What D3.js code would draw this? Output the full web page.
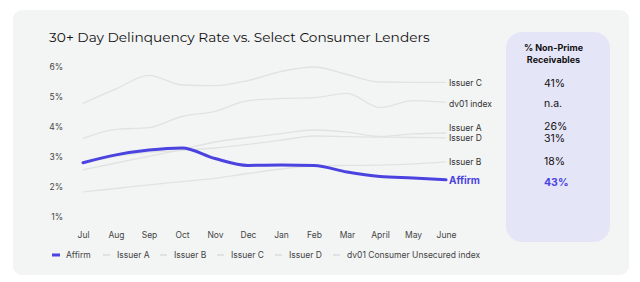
<!DOCTYPE html>
<html><head><meta charset="utf-8">
<script src="https://cdn.jsdelivr.net/npm/d3@7"></script>
<style>
html,body{margin:0;padding:0;background:#fff;}
svg{display:block;}
</style></head>
<body>
<svg id="chart" width="640" height="282"></svg>
<script>
const months = ["Jul","Aug","Sep","Oct","Nov","Dec","Jan","Feb","Mar","April","May","June"];
const affirm  = [2.81,3.07,3.23,3.30,2.95,2.72,2.73,2.72,2.50,2.35,2.30,2.24];
const issuerA = [2.57,2.80,3.02,3.25,3.50,3.65,3.78,3.90,3.83,3.69,3.77,3.80];
const issuerB = [1.84,1.95,2.07,2.18,2.29,2.45,2.60,2.70,2.72,2.73,2.77,2.84];
const issuerC = [4.79,5.27,5.72,5.40,5.38,5.55,5.85,6.00,5.75,5.50,5.49,5.49];
const issuerD = [2.78,3.02,3.16,3.22,3.30,3.42,3.56,3.70,3.68,3.66,3.65,3.64];
const dv01    = [3.62,3.92,3.98,4.35,4.52,4.88,4.95,4.98,5.12,4.65,4.88,4.82];
const yTicks = [1,2,3,4,5,6];
const seriesNames = ["Affirm","Issuer A","Issuer B","Issuer C","Issuer D","dv01 Consumer Unsecured index"];
const endLabels = ["Issuer C","dv01 index","Issuer A","Issuer D","Issuer B","Affirm"];
// label anchor positions expressed in % units of the y axis
const endLabelValues = [5.45,4.78,3.98,3.62,2.84,2.21];
const panelValueLevels = [5.47,4.78,4.03,3.63,2.86,2.14];
const panelHeader = ["% Non-Prime","Receivables"];
const panelValues = ["41%","n.a.","26%","31%","18%","43%"];

const BLUE = "#4b43e0", GREY = "#e1e2e2", TXT = "#333";
const svg = d3.select("#chart");
const font = "Inter, 'Noto Sans', sans-serif";

// card
svg.append("rect").attr("x",13).attr("y",10).attr("width",616).attr("height",265)
  .attr("rx",9).attr("fill","#f3f4f4");

// title
const title = svg.append("text").attr("x",49).attr("y",41.5)
  .attr("font-family","Montserrat, 'Open Sans', sans-serif").attr("font-size",17)
  .attr("fill","#111").text("30+ Day Delinquency Rate vs. Select Consumer Lenders");
const tl = title.node().getComputedTextLength();
title.attr("font-size", 17*381/tl);

const x = d3.scalePoint().domain(months).range([83,446]);
const y = d3.scaleLinear().domain([1,6]).range([217,67]);

// y axis
const yAxis = svg.append("g").attr("transform","translate(63,0)")
  .call(d3.axisLeft(y).tickValues(yTicks).tickSize(0).tickPadding(0).tickFormat(d=>d+"%"));
yAxis.select(".domain").remove();
yAxis.selectAll("text").attr("font-family",font).attr("font-size",8.5).attr("fill","#444");

// x axis
const xAxis = svg.append("g").attr("transform","translate(0,232)")
  .call(d3.axisBottom(x).tickSize(0).tickPadding(0));
xAxis.select(".domain").remove();
xAxis.selectAll("text").attr("font-family",font).attr("font-size",8.5).attr("fill","#444");

const line = d3.line().x((d,i)=>x(months[i])).y(d=>y(d)).curve(d3.curveMonotoneX);
[issuerB, issuerD, issuerA, dv01, issuerC].forEach(s=>{
  svg.append("path").attr("d",line(s)).attr("fill","none").attr("stroke",GREY).attr("stroke-width",1.3);
});
svg.append("path").attr("d",line(affirm)).attr("fill","none").attr("stroke",BLUE)
  .attr("stroke-width",3).attr("stroke-linecap","round");

// end labels
endLabels.forEach((t,i)=>{
  const isA = t==="Affirm";
  svg.append("text").attr("x",449).attr("y",y(endLabelValues[i])).attr("dy","0.35em")
    .attr("font-family",font).attr("font-size",isA?10:8.5).attr("font-weight",isA?700:400)
    .attr("fill",isA?BLUE:TXT).text(t);
});

// panel
svg.append("rect").attr("x",506).attr("y",32).attr("width",104).attr("height",210)
  .attr("rx",16).attr("fill","#e5e5f8");
panelHeader.forEach((t,i)=>{
  svg.append("text").attr("x",553.5).attr("y",51+i*11.5).attr("text-anchor","middle")
    .attr("font-family",font).attr("font-size",9).attr("font-weight",700).attr("fill","#111").text(t);
});
panelValues.forEach((t,i)=>{
  const isA = i===panelValues.length-1;
  svg.append("text").attr("x",544).attr("y",y(panelValueLevels[i])).attr("dy","0.35em")
    .attr("font-family",font).attr("font-size",10.5).attr("font-weight",isA?700:400)
    .attr("fill",isA?BLUE:"#111").text(t);
});

// legend
const legX = [52,103,160,217,275,333];
seriesNames.forEach((t,i)=>{
  const g = svg.append("g").attr("transform",`translate(${legX[i]},255)`);
  g.append("line").attr("x1",0).attr("x2",i===0?8:7).attr("y1",0).attr("y2",0)
    .attr("stroke",i===0?BLUE:"#dcdddd").attr("stroke-width",i===0?3:1.6);
  g.append("text").attr("x",14).attr("y",0).attr("dy","0.35em")
    .attr("font-family",font).attr("font-size",8.5).attr("fill","#444").text(t);
});
</script>
</body></html>
